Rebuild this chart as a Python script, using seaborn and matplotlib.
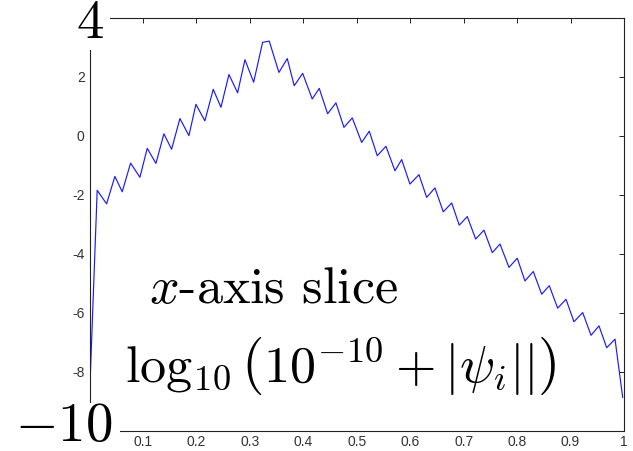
import numpy as np
import pandas as pd
import matplotlib
matplotlib.use("Agg")
import matplotlib.pyplot as plt
from matplotlib.patches import Rectangle
import seaborn as sns

# ---- data ----
x_vals = [0.0007, 0.0144, 0.0320, 0.0475, 0.0612, 0.0769, 0.0943, 0.1080, 0.1243, 0.1392,
          0.1536, 0.1692, 0.1860, 0.1991, 0.2159, 0.2315, 0.2459, 0.2609, 0.2771, 0.2908,
          0.3071, 0.3239, 0.3363, 0.3544, 0.3700, 0.3830, 0.3988, 0.4167, 0.4298, 0.4455,
          0.4611, 0.4760, 0.4916, 0.5092, 0.5234, 0.5384, 0.5546, 0.5715, 0.5840, 0.5995,
          0.6164, 0.6308, 0.6463, 0.6619, 0.6776, 0.6918, 0.7068, 0.7225, 0.7380, 0.7536,
          0.7680, 0.7848, 0.8003, 0.8147, 0.8303, 0.8460, 0.8602, 0.8759, 0.8915, 0.9064,
          0.9227, 0.9383, 0.9532, 0.9676, 0.9832, 0.9976]
y_vals = [-8.53, -1.85, -2.31, -1.38, -1.90, -0.93, -1.41, -0.43, -0.94, 0.06,
          -0.46, 0.58, 0.00, 1.06, 0.50, 1.57, 0.96, 2.07, 1.45, 2.57,
          1.81, 3.16, 3.20, 2.14, 2.61, 1.69, 2.11, 1.24, 1.60, 0.74,
          1.11, 0.28, 0.60, -0.23, 0.15, -0.68, -0.36, -1.19, -0.81, -1.64,
          -1.32, -2.09, -1.77, -2.58, -2.28, -3.03, -2.74, -3.50, -3.20, -3.96,
          -3.67, -4.46, -4.15, -4.92, -4.60, -5.37, -5.08, -5.84, -5.54, -6.30,
          -5.99, -6.76, -6.44, -7.18, -6.89, -8.87]

x_ticks = [0.1, 0.2, 0.3, 0.4, 0.5, 0.6, 0.7, 0.8, 0.9, 1.0]
x_tick_labels = ["0.1", "0.2", "0.3", "0.4", "0.5", "0.6", "0.7", "0.8", "0.9", "1"]
y_ticks = [-8, -6, -4, -2, 0, 2]
y_tick_labels = ["-8", "-6", "-4", "-2", "0", "2"]
y_big_ticks = [-10, 4]
y_big_labels = [r"$-10$", r"$4$"]
annot_line1 = r"$x$-axis slice"
annot_line2 = r"$\log_{10}\left(10^{-10}+|\psi_i||\right)$"

# ---- style ----
sns.set_theme(style="white")
plt.rcParams['font.family'] = ['Liberation Sans', 'DejaVu Sans']
plt.rcParams['mathtext.fontset'] = 'cm'
plt.rcParams['axes.unicode_minus'] = False

W, H = 633, 451
fig = plt.figure(figsize=(W / 100, H / 100), dpi=100)
fig.patch.set_facecolor("white")
L, R, T, B = 89.5, 624, 17.5, 431
ax = fig.add_axes([L / W, 1 - B / H, (R - L) / W, (B - T) / H])
ax.set_facecolor("white")

df = pd.DataFrame({"x": x_vals, "y": y_vals})
sns.lineplot(data=df, x="x", y="y", sort=False, estimator=None,
             color=(0.1, 0.1, 1.0), linewidth=0.85, ax=ax)

ax.set_xlim(0, 1)
ax.set_ylim(-10, 4)
ax.set_xlabel("")
ax.set_ylabel("")
ax.set_xticks(x_ticks)
ax.set_xticklabels(x_tick_labels)
ax.set_yticks(y_ticks)
ax.set_yticklabels(y_tick_labels)
ax.tick_params(axis="both", direction="in", length=3.8, width=0.7, color="#222222",
               labelsize=10, labelcolor="#333333", top=True, right=True)
ax.tick_params(axis="x", pad=3)
ax.tick_params(axis="y", pad=3.5)
for s in ax.spines.values():
    s.set_linewidth(0.8)
    s.set_color("#222222")
    s.set_visible(True)

# white masks behind the big end labels (cover the spine corners)
masks = [(62, 0, 110, 50), (0, 403, 120, H)]   # pixel boxes (x0, y0, x1, y1) from top-left
for x0, y0, x1, y1 in masks:
    ax.add_patch(Rectangle((x0 / W, 1 - y1 / H), (x1 - x0) / W, (y1 - y0) / H,
                           transform=fig.transFigure, facecolor="white",
                           edgecolor="none", clip_on=False, zorder=4))

# big end labels of the y axis
offsets = {-10: (-26, 3.5), 4: (0, -6.5)}
for val, lab in zip(y_big_ticks, y_big_labels):
    dx, dy = offsets[val]
    ax.annotate(lab, xy=(0, val), xycoords=ax.get_yaxis_transform(),
                xytext=(dx, dy), textcoords="offset pixels",
                ha="center", va="center", fontsize=39.5, color="black",
                annotation_clip=False, zorder=5)

ax.text(0.3443, 0.3096, annot_line1, transform=ax.transAxes, ha="center",
        va="baseline", fontsize=37.5, family="cmr10", color="black", zorder=5)
ax.text(0.4705, 0.1185, annot_line2, transform=ax.transAxes, ha="center",
        va="baseline", fontsize=37.5, color="black", zorder=5)

fig.savefig("out.png", dpi=100, facecolor="white")
